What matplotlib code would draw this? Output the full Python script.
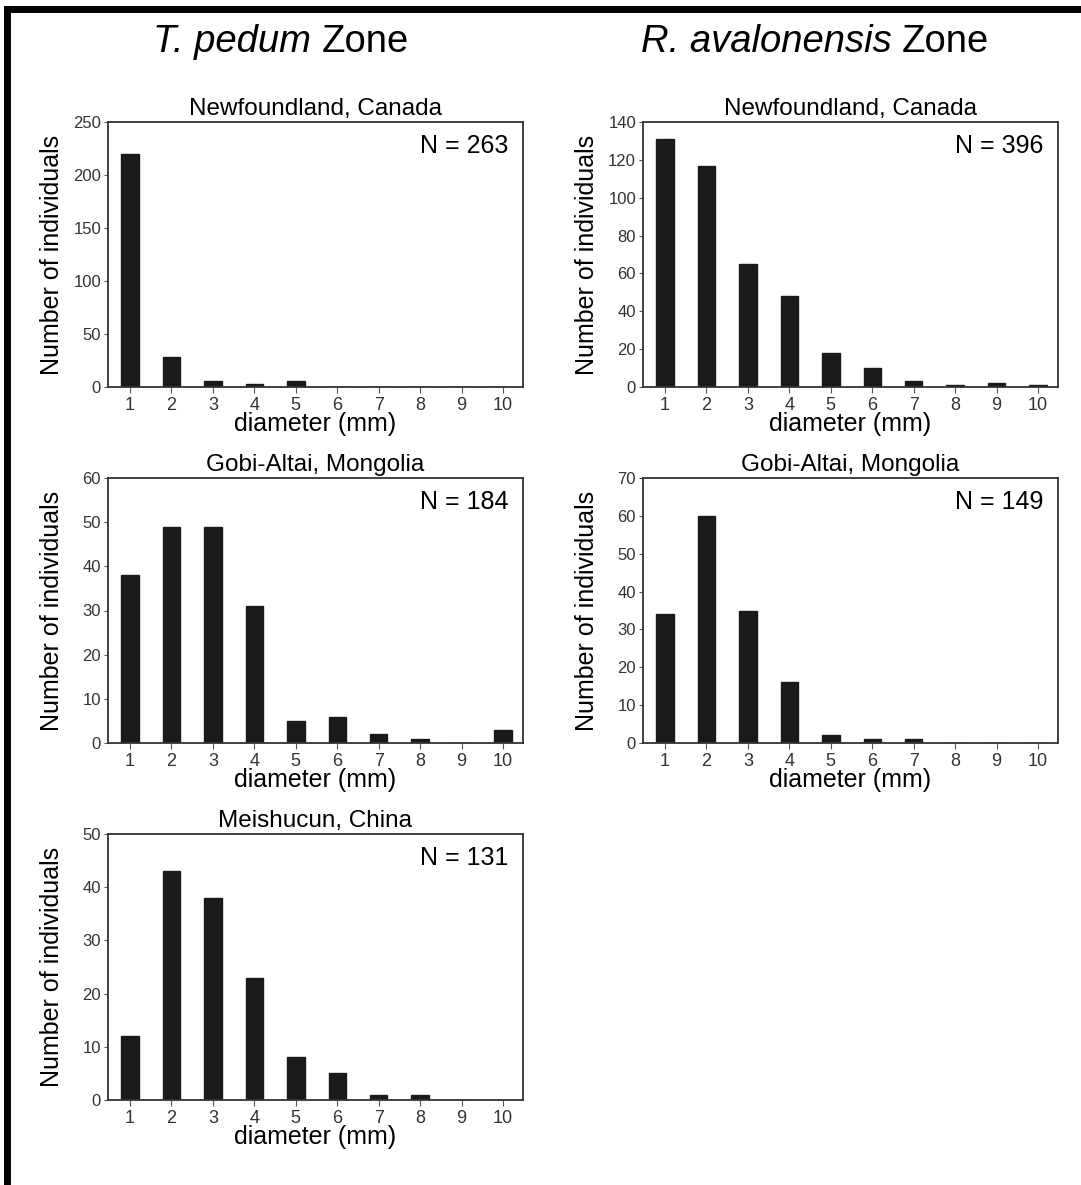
import numpy as np
import matplotlib.pyplot as plt
from matplotlib.lines import Line2D

plt.rcParams['font.family'] = ['Liberation Sans', 'DejaVu Sans']

diam = np.arange(1, 11)

tp_newf = [220, 28, 6, 3, 6, 0, 0, 0, 0, 0]
tp_gobi = [38, 49, 49, 31, 5, 6, 2, 1, 0, 3]
tp_meis = [12, 43, 38, 23, 8, 5, 1, 1, 0, 0]
ra_newf = [131, 117, 65, 48, 18, 10, 3, 1, 2, 1]
ra_gobi = [34, 60, 35, 16, 2, 1, 1, 0, 0, 0]

W, H = 1081, 1185
fig = plt.figure(figsize=(W/100, H/100), dpi=100)

def px_axes(x0, x1, ytop, ybot):
    return fig.add_axes([x0/W, 1 - ybot/H, (x1-x0)/W, (ybot-ytop)/H])

panels = [
    # x0, x1, ytop, ybot, values, ymax, step, title, N
    (108, 523, 122, 387, tp_newf, 250, 50, 'Newfoundland, Canada', 263),
    (643, 1058, 122, 387, ra_newf, 140, 20, 'Newfoundland, Canada', 396),
    (108, 523, 478, 743, tp_gobi, 60, 10, 'Gobi-Altai, Mongolia', 184),
    (643, 1058, 478, 743, ra_gobi, 70, 10, 'Gobi-Altai, Mongolia', 149),
    (108, 523, 834, 1100, tp_meis, 50, 10, 'Meishucun, China', 131),
]

for x0, x1, yt, yb, vals, ymax, step, title, n in panels:
    ax = px_axes(x0, x1, yt, yb)
    ax.bar(diam, vals, width=0.42, color='#1a1a1a', edgecolor='#1a1a1a')
    ax.set_xlim(0.47, 10.48)
    ax.set_ylim(0, ymax)
    ax.set_yticks(np.arange(0, ymax + 1, step))
    ax.set_xticks(diam)
    ax.tick_params(axis='y', labelsize=12, length=3, color='#555555', labelcolor='#333333', pad=2)
    ax.tick_params(axis='x', labelsize=13, length=4, color='#555555', labelcolor='#333333', pad=3)
    for s in ax.spines.values():
        s.set_linewidth(1.3)
        s.set_color('#333333')
    ax.set_xlabel('diameter (mm)', fontsize=18)
    ax.xaxis.set_label_coords(0.5, -0.095)
    ax.set_ylabel('Number of individuals', fontsize=18)
    ax.yaxis.set_label_coords(-0.105, 0.5)
    ax.set_title(title, fontsize=17.5, pad=5)
    ax.text(0.965, 0.955, 'N = %d' % n, transform=ax.transAxes, ha='right', va='top', fontsize=18)

# zone headers: italic genus name followed by upright "Zone"
renderer = fig.canvas.get_renderer()
for cx, genus in [(281, 'T. pedum'), (815, 'R. avalonensis')]:
    t1 = fig.text(0, 1 - 42/H, genus + ' ', style='italic', fontsize=27.5, va='center')
    t2 = fig.text(0, 1 - 42/H, 'Zone', fontsize=27.5, va='center')
    w1 = t1.get_window_extent(renderer).width
    w2 = t2.get_window_extent(renderer).width
    left = cx - (w1 + w2) / 2
    t1.set_x(left / W)
    t2.set_x((left + w1) / W)

# frame around the figure (left and top)
fig.add_artist(Line2D([7/W, 7/W], [0, 1 - 9/H], color='black', lw=5, transform=fig.transFigure))
fig.add_artist(Line2D([7/W, 1], [1 - 9/H, 1 - 9/H], color='black', lw=5, transform=fig.transFigure))

plt.savefig('out.png', dpi=100)
